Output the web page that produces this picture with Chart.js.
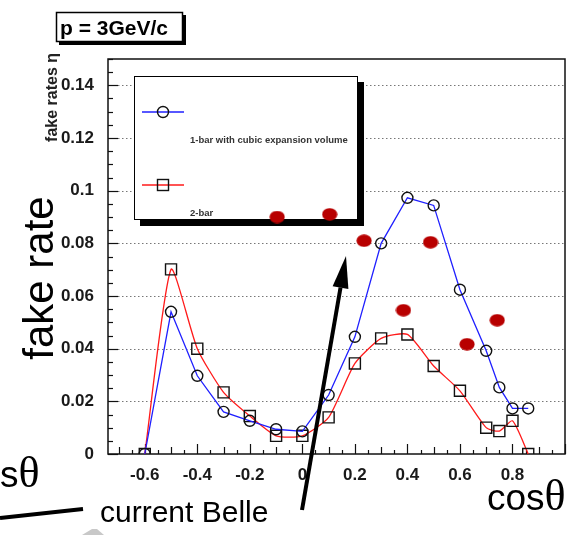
<!DOCTYPE html>
<html>
<head>
<meta charset="utf-8">
<script src="https://cdn.jsdelivr.net/npm/chart.js@4.4.1/dist/chart.umd.min.js"></script>
<style>
  body { margin: 0; background: #fff; }
  canvas { display: block; }
</style>
</head>
<body>
<canvas id="fakeChart" width="577" height="535"></canvas>
<script>
// values
const cosTheta = [-0.6, -0.5, -0.4, -0.3, -0.2, -0.1, 0, 0.1, 0.2, 0.3, 0.4, 0.5, 0.6, 0.7, 0.75, 0.8, 0.86];
const oneBarRate = [0, 0.054, 0.0297, 0.016, 0.0126, 0.0094, 0.0086, 0.0224, 0.0445, 0.080, 0.0973, 0.0944, 0.0624, 0.0392, 0.0253, 0.0173, 0.0173];
const twoBarRate = [0, 0.0701, 0.040, 0.0234, 0.0144, 0.0069, 0.0069, 0.0139, 0.0344, 0.0439, 0.0454, 0.0334, 0.024, 0.010, 0.0087, 0.0126, 0];
const belleCos = [-0.096, 0.104, 0.235, 0.488, 0.385, 0.742, 0.627];
const belleRate = [0.090, 0.091, 0.081, 0.0804, 0.0546, 0.0508, 0.0417];
const xTickValues = [-0.6, -0.4, -0.2, 0, 0.2, 0.4, 0.6, 0.8];
const yTickValues = [0, 0.02, 0.04, 0.06, 0.08, 0.1, 0.12, 0.14];

const seriesLabels = ["1-bar with cubic expansion volume", "2-bar"];
const blue = "#1f1fff";
const red = "#ff1a1a";

const toPoints = (xs, ys) => xs.map((x, i) => ({ x: x, y: ys[i] }));

// filled ellipse used as the marker of the overlay points
const dot = document.createElement("canvas");
dot.width = 16;
dot.height = 13;
{
  const c = dot.getContext("2d");
  c.fillStyle = "#b80000";
  c.beginPath();
  c.ellipse(8, 6.5, 7.6, 6.2, 0, 0, Math.PI * 2);
  c.fill();
}

const tickFont = { family: "'Liberation Sans', Arial, sans-serif", size: 17, weight: "bold" };

const decor = {
  id: "decor",
  beforeDatasetsDraw(chart) {
    const ctx = chart.ctx;
    const area = chart.chartArea;
    const xs = chart.scales.x;
    const ys = chart.scales.y;
    ctx.save();

    // dotted grid
    ctx.strokeStyle = "#777";
    ctx.lineWidth = 1;
    ctx.setLineDash([1.5, 2.5]);
    yTickValues.forEach(v => {
      if (v === 0) return;
      const y = Math.round(ys.getPixelForValue(v)) + 0.5;
      ctx.beginPath();
      ctx.moveTo(area.left + 10, y);
      ctx.lineTo(area.right, y);
      ctx.stroke();
    });
    ctx.setLineDash([]);

    // frame
    ctx.strokeStyle = "#111";
    ctx.lineWidth = 1.5;
    ctx.strokeRect(area.left, area.top, area.right - area.left, area.bottom - area.top);

    // ticks, drawn inside the frame
    ctx.lineWidth = 1.2;
    for (let k = 0; k <= 30; k++) {
      const v = k * 0.005;
      const y = Math.round(ys.getPixelForValue(v)) + 0.5;
      const len = k % 4 === 0 ? 10 : 5;
      ctx.beginPath();
      ctx.moveTo(area.left, y);
      ctx.lineTo(area.left + len, y);
      ctx.stroke();
    }
    for (let k = -14; k <= 20; k++) {
      const v = k * 0.05;
      const x = Math.round(xs.getPixelForValue(v)) + 0.5;
      const len = k % 4 === 0 ? 10 : (k % 2 === 0 ? 7 : 4);
      ctx.beginPath();
      ctx.moveTo(x, area.bottom);
      ctx.lineTo(x, area.bottom - len);
      ctx.stroke();
    }

    // legend box with shadow
    ctx.fillStyle = "#000";
    ctx.fillRect(358, 82, 6, 144);
    ctx.fillRect(140, 220, 224, 6);
    ctx.fillStyle = "#fff";
    ctx.fillRect(134, 76, 224, 144);
    ctx.strokeStyle = "#000";
    ctx.lineWidth = 1;
    ctx.strokeRect(134.5, 76.5, 223, 143);

    ctx.lineWidth = 1.3;
    ctx.strokeStyle = blue;
    ctx.beginPath();
    ctx.moveTo(142, 112);
    ctx.lineTo(184, 112);
    ctx.stroke();
    ctx.strokeStyle = red;
    ctx.beginPath();
    ctx.moveTo(142, 185);
    ctx.lineTo(184, 185);
    ctx.stroke();
    ctx.strokeStyle = "#111";
    ctx.lineWidth = 1.4;
    ctx.beginPath();
    ctx.arc(163, 112, 5.5, 0, Math.PI * 2);
    ctx.stroke();
    ctx.strokeRect(157.5, 179.5, 11, 11);

    ctx.fillStyle = "#333";
    ctx.font = "bold 9.5px 'Liberation Sans', Arial, sans-serif";
    ctx.textBaseline = "middle";
    ctx.fillText(seriesLabels[0], 190, 140);
    ctx.fillText(seriesLabels[1], 190, 213);

    // title box
    ctx.fillStyle = "#000";
    ctx.fillRect(59, 15, 127, 30);
    ctx.fillStyle = "#fff";
    ctx.fillRect(56, 12, 127, 30);
    ctx.strokeStyle = "#000";
    ctx.lineWidth = 1.5;
    ctx.strokeRect(56.5, 12.5, 126, 29);
    ctx.fillStyle = "#000";
    ctx.font = "bold 21px 'Liberation Sans', Arial, sans-serif";
    ctx.textBaseline = "alphabetic";
    ctx.fillText("p = 3GeV/c", 60, 35);

    // small axis title
    ctx.save();
    ctx.translate(57, 53);
    ctx.rotate(-Math.PI / 2);
    ctx.font = "bold 16px 'Liberation Sans', Arial, sans-serif";
    ctx.textAlign = "right";
    ctx.fillStyle = "#222";
    ctx.fillText("fake rates \u03b7", 0, 0);
    ctx.restore();

    ctx.restore();
  },
  afterDraw(chart) {
    const ctx = chart.ctx;
    ctx.save();
    ctx.fillStyle = "#000";
    ctx.strokeStyle = "#000";

    // big axis title
    ctx.save();
    ctx.translate(53, 278);
    ctx.rotate(-Math.PI / 2);
    ctx.font = "42px 'Liberation Sans', Arial, sans-serif";
    ctx.textAlign = "center";
    ctx.fillText("fake rate", 0, 0);
    ctx.restore();

    // cos theta labels
    ctx.font = "37px 'Liberation Sans', Arial, sans-serif";
    ctx.fillText("cos", 487, 510);
    const cosW = ctx.measureText("cos").width;
    ctx.fillText("s", 0, 487);
    const sW = ctx.measureText("s").width;
    ctx.font = "44px 'Liberation Serif', 'Times New Roman', serif";
    ctx.fillText("\u03b8", 487 + cosW, 510);
    ctx.fillText("\u03b8", sW, 487);

    ctx.font = "30px 'Liberation Sans', Arial, sans-serif";
    ctx.fillText("current Belle", 100, 522);

    // pointer lines
    ctx.lineWidth = 4;
    ctx.beginPath();
    ctx.moveTo(0, 518);
    ctx.lineTo(83, 509);
    ctx.stroke();

    const tip = { x: 346, y: 256 };
    const tail = { x: 302, y: 510 };
    const dx = tip.x - tail.x, dy = tip.y - tail.y;
    const L = Math.hypot(dx, dy);
    const ux = dx / L, uy = dy / L;
    const bx = tip.x - ux * 32, by = tip.y - uy * 32;
    ctx.beginPath();
    ctx.moveTo(tail.x, tail.y);
    ctx.lineTo(bx, by);
    ctx.stroke();
    ctx.beginPath();
    ctx.moveTo(tip.x, tip.y);
    ctx.lineTo(bx - uy * 8, by + ux * 8);
    ctx.lineTo(bx + uy * 8, by - ux * 8);
    ctx.closePath();
    ctx.fill();

    ctx.fillStyle = "#c8c8c8";
    ctx.beginPath();
    ctx.moveTo(82, 535);
    ctx.lineTo(92, 529);
    ctx.lineTo(97, 529);
    ctx.lineTo(104, 535);
    ctx.closePath();
    ctx.fill();
    ctx.restore();
  }
};

new Chart(document.getElementById("fakeChart"), {
  type: "line",
  data: {
    datasets: [
      {
        label: "current Belle",
        data: toPoints(belleCos, belleRate),
        showLine: false,
        pointStyle: dot,
        pointRadius: 7,
      },
      {
        label: seriesLabels[0],
        data: toPoints(cosTheta, oneBarRate),
        borderColor: blue,
        borderWidth: 1.3,
        tension: 0,
        pointStyle: "circle",
        pointRadius: 5.5,
        pointBorderColor: "#111",
        pointBackgroundColor: "rgba(0,0,0,0)",
        pointBorderWidth: 1.4,
      },
      {
        label: seriesLabels[1],
        data: toPoints(cosTheta, twoBarRate),
        borderColor: red,
        borderWidth: 1.3,
        tension: 0.2,
        pointStyle: "rect",
        pointRadius: 7.8,
        pointBorderColor: "#111",
        pointBackgroundColor: "rgba(0,0,0,0)",
        pointBorderWidth: 1.4,
      }
    ]
  },
  options: {
    responsive: false,
    animation: false,
    layout: { padding: { top: 59, right: 12, left: 0, bottom: 0 } },
    plugins: { legend: { display: false }, tooltip: { enabled: false } },
    scales: {
      x: {
        type: "linear",
        min: -0.74,
        max: 1.0,
        afterBuildTicks: s => { s.ticks = xTickValues.map(v => ({ value: v })); },
        afterFit: s => { s.height = 81; },
        grid: { display: false },
        border: { display: false },
        ticks: { font: tickFont, color: "#1a1a1a", padding: 3, maxRotation: 0, autoSkip: false, callback: v => String(v) }
      },
      y: {
        min: 0,
        max: 0.15,
        afterBuildTicks: s => { s.ticks = yTickValues.map(v => ({ value: v })); },
        afterFit: s => { s.width = 108; },
        grid: { display: false },
        border: { display: false },
        ticks: { font: tickFont, color: "#1a1a1a", padding: 6, autoSkip: false, callback: v => String(v) }
      }
    }
  },
  plugins: [decor]
});
</script>
</body>
</html>
